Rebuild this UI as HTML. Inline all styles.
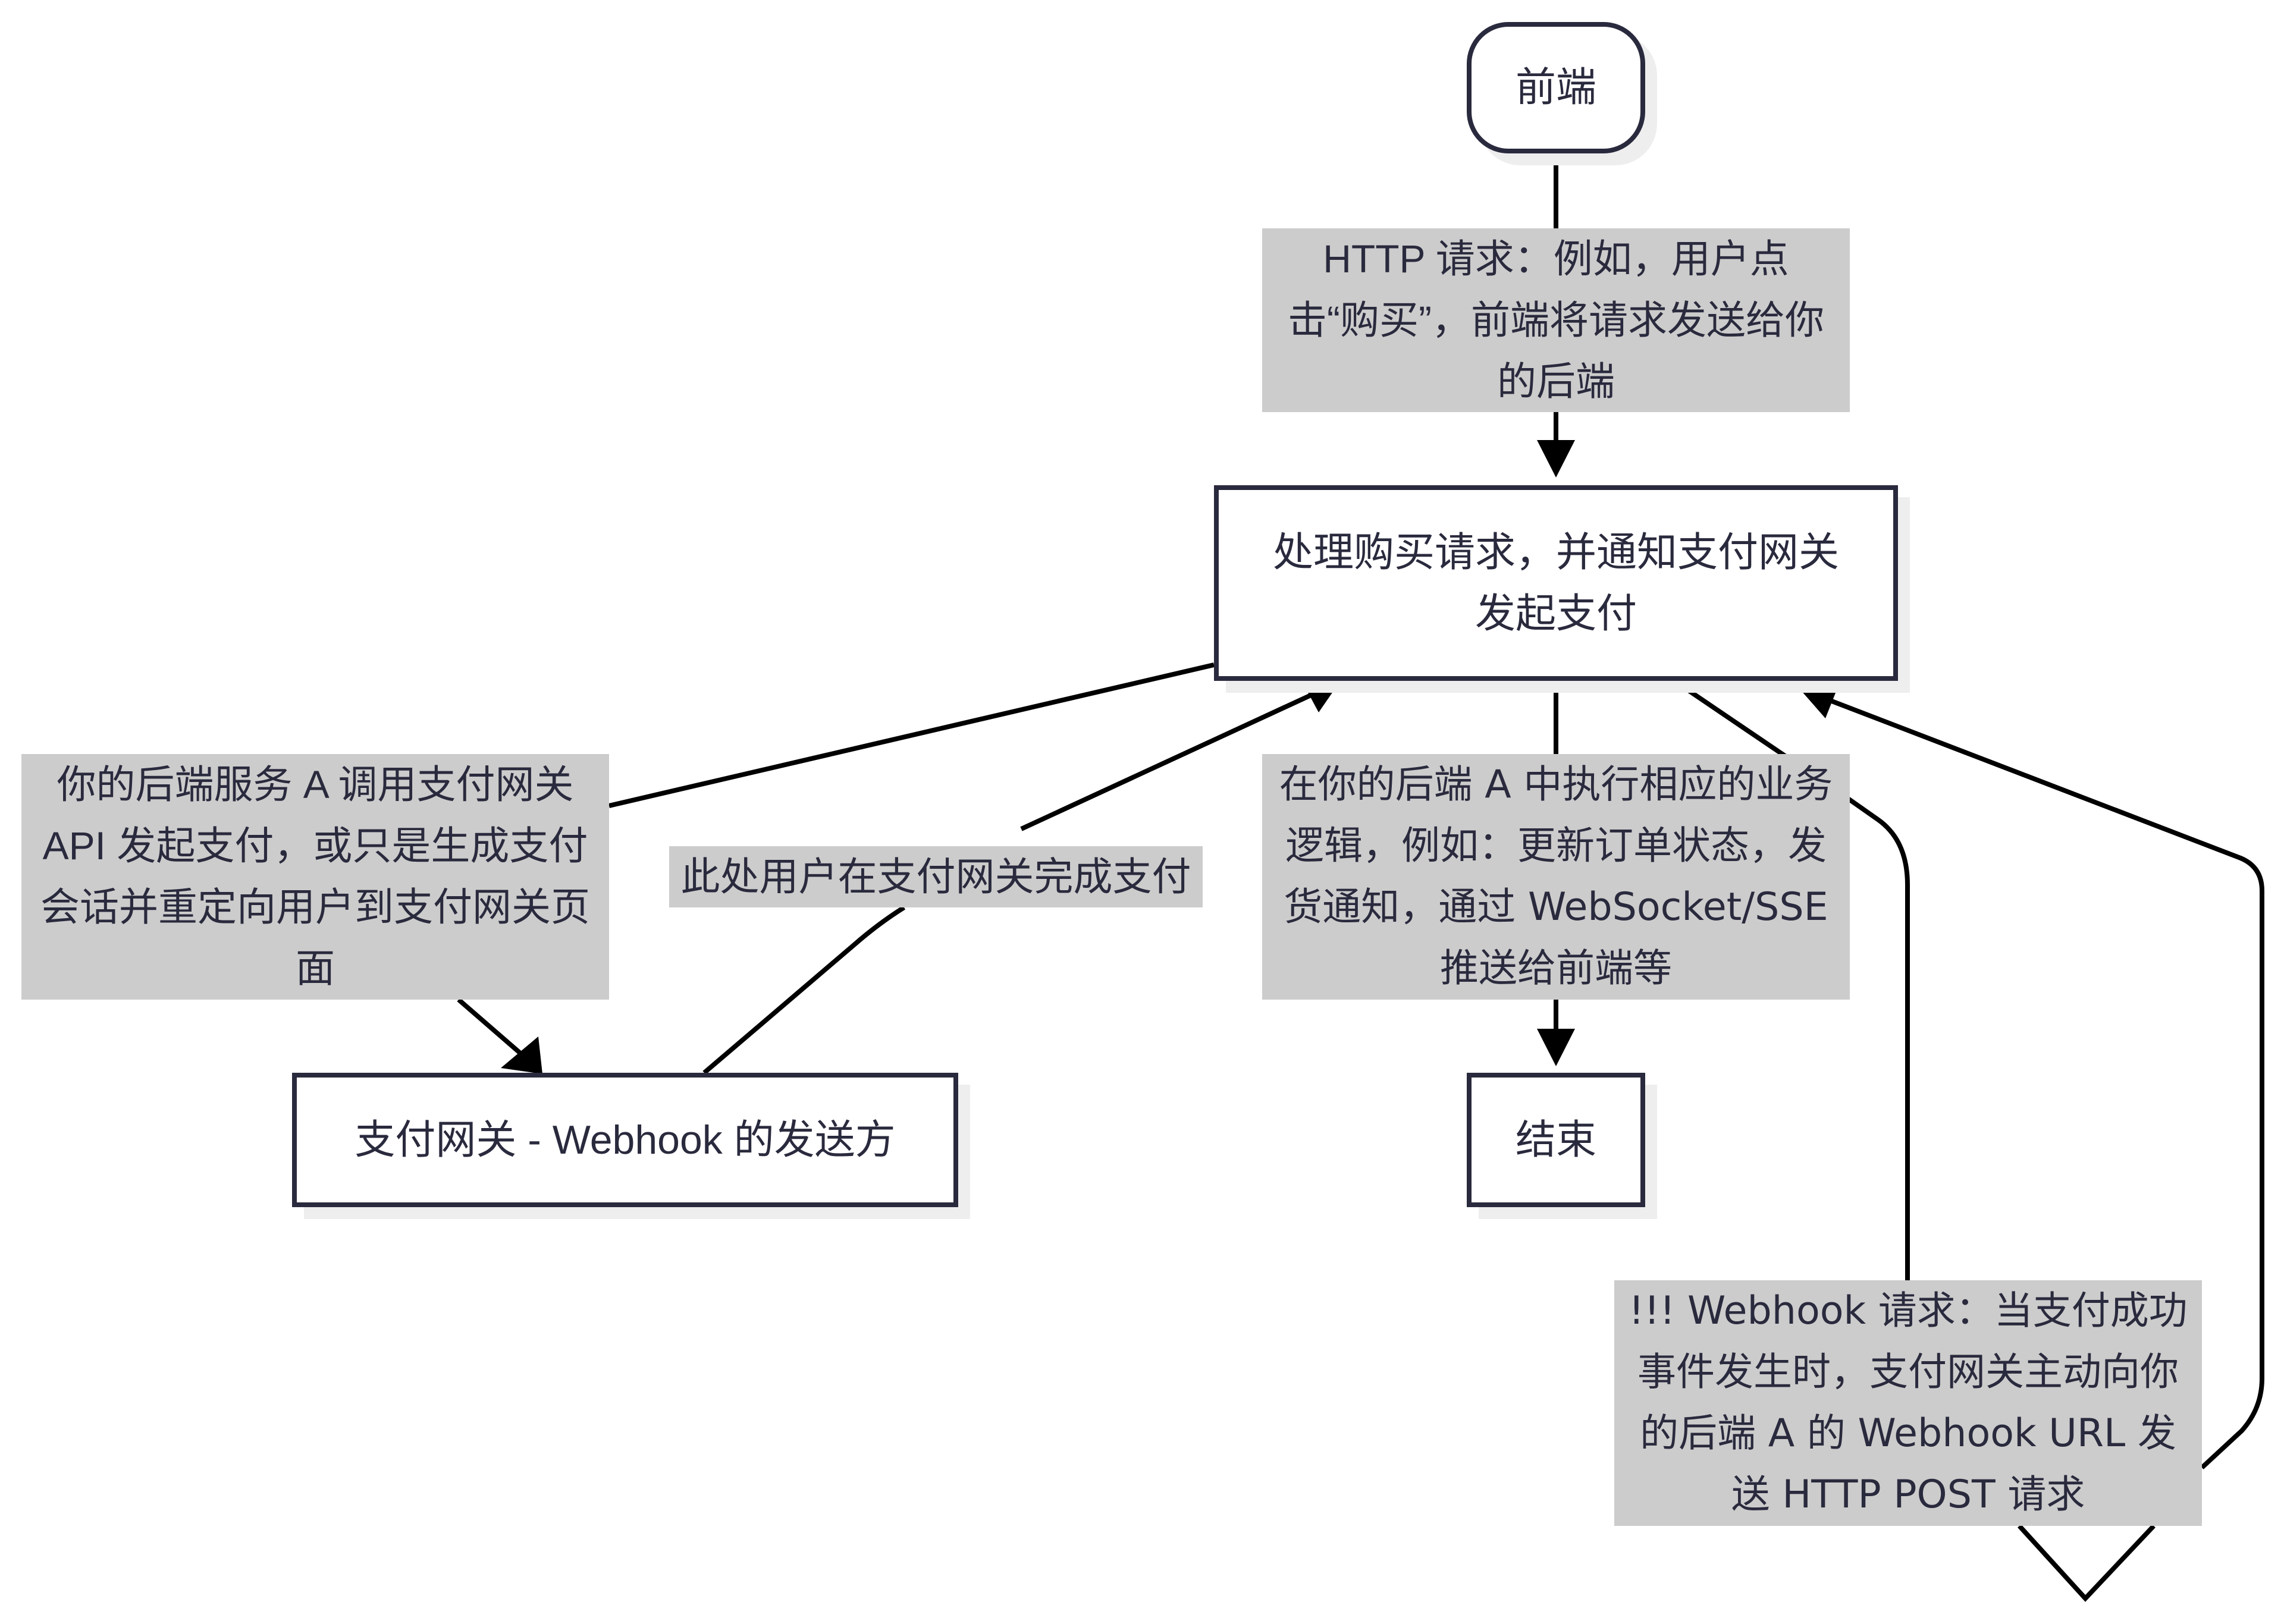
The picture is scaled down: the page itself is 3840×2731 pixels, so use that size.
<!DOCTYPE html>
<html><head><meta charset="utf-8"><style>
body{margin:0;width:3840px;height:2731px;background:#fff;position:relative;overflow:hidden;font-family:"Liberation Sans","Noto Sans CJK SC",sans-serif;color:#2a2a3e}
#w{position:absolute;left:-3px;top:-2px;width:3840px;height:2731px}
.n{position:absolute;box-sizing:border-box;border:8px solid #2a2a3e;background:#fff;box-shadow:20px 20px 0 #eeeeef;display:flex;align-items:center;justify-content:center;text-align:center;font-size:68px;line-height:103px}
.l{position:absolute;background:#cccccc;text-align:center;font-size:66px;line-height:103px;white-space:nowrap}
.d{font-family:"DejaVu Sans","Noto Sans CJK SC",sans-serif;font-size:65px}
svg{position:absolute;left:0;top:0}
</style></head><body><div id="w">
<svg width="3840" height="2731" viewBox="0 0 3840 2731">
<g stroke="#000" stroke-width="8" fill="none">
<line x1="2619" y1="260" x2="2619" y2="760"/>
<polyline points="2044,1120 1027,1357"/>
<line x1="774" y1="1683" x2="880" y2="1775"/>
<path d="M1187,1806 L1440,1590 Q1480,1555 1523,1528"/>
<line x1="1720" y1="1396" x2="2220" y2="1165"/>
<line x1="2619" y1="1147" x2="2619" y2="1750"/>
<path d="M2818,1147 L3113,1347 M3113,1347 L3160,1380 Q3210,1415 3210,1490 L3210,2155"/>
<path d="M3398,2568 L3509,2690 L3624,2568"/>
<path d="M3705,2470 L3772,2408 Q3806,2370 3806,2320 L3806,1500 Q3806,1460 3770,1445 L3080,1180"/>
</g>
<g fill="#000">
<polygon points="2587,742 2651,742 2619,805"/>
<polygon points="845,1798 908,1745 915,1808"/>
<polygon points="2258,1145 2192,1148 2220,1200"/>
<polygon points="2587,1732 2651,1732 2619,1795"/>
<polygon points="3030,1162 3095,1152 3072,1210"/>
</g>
</svg>
<div class="n" style="left:2469px;top:39px;width:300px;height:221px;border-radius:70px">前端</div>
<div class="n" style="left:2044px;top:818px;width:1150px;height:329px">处理购买请求，并通知支付网关<br>发起支付</div>
<div class="n" style="left:494px;top:1806px;width:1120px;height:226px">支付网关 - Webhook 的发送方</div>
<div class="n" style="left:2469px;top:1806px;width:300px;height:226px">结束</div>
<div class="l" style="left:2125px;top:386px;width:988px;height:309px">HTTP 请求：例如，用户点<br>击“购买”，前端将请求发送给你<br>的后端</div>
<div class="l" style="left:39px;top:1270px;width:988px;height:413px">你的后端服务 A 调用支付网关<br>API 发起支付，或只是生成支付<br>会话并重定向用户到支付网关页<br>面</div>
<div class="l" style="left:1128px;top:1425px;width:897px;height:103px">此处用户在支付网关完成支付</div>
<div class="l d" style="left:2125px;top:1270px;width:988px;height:413px">在你的后端 A 中执行相应的业务<br>逻辑，例如：更新订单状态，发<br>货通知，通过 WebSocket/SSE<br>推送给前端等</div>
<div class="l d" style="left:2717px;top:2155px;width:988px;height:413px">!!! Webhook 请求：当支付成功<br>事件发生时，支付网关主动向你<br>的后端 A 的 Webhook URL 发<br>送 HTTP POST 请求</div>
</div></body></html>
